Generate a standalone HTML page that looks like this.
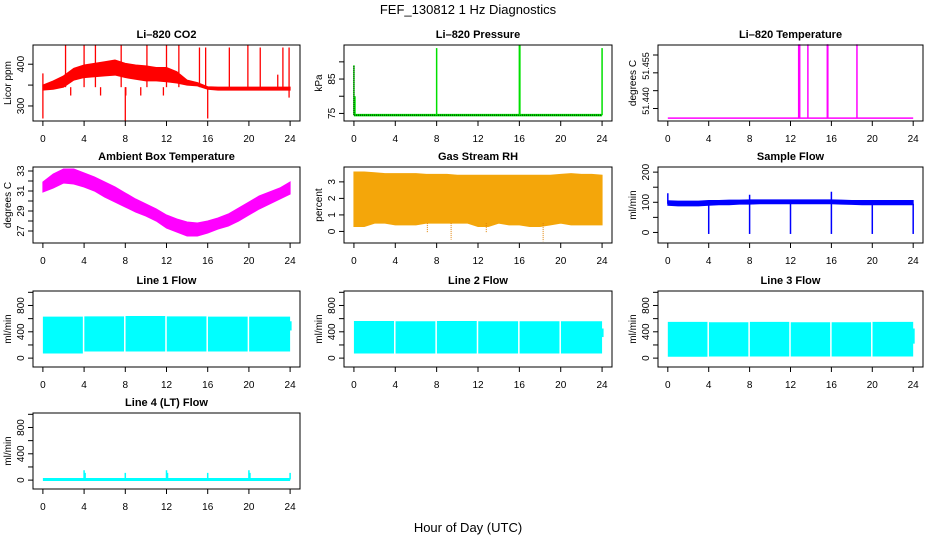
<!DOCTYPE html>
<html><head><meta charset="utf-8"><style>
html,body{margin:0;padding:0;background:#fff}
svg{display:block;font-family:"Liberation Sans",Arial,sans-serif}
</style></head><body>
<svg id="chart" width="936" height="540" viewBox="0 0 936 540" xmlns="http://www.w3.org/2000/svg">
<rect width="936" height="540" fill="#fff"/>
<text x="468" y="14" text-anchor="middle" font-size="13">FEF_130812  1 Hz Diagnostics</text>
<text x="468" y="532" text-anchor="middle" font-size="13">Hour of Day (UTC)</text>
</svg>
<script>
// ---- data arrays ----
const hours = [0,1,2,3,4,5,6,7,8,9,10,11,12,13,14,15,16,17,18,19,20,21,22,23,24];
const xTicks = [0,4,8,12,16,20,24];
// CO2
const co2Lo = [338,340,345,362,368,370,372,374,368,364,360,360,358,355,350,348,340,338,338,338,338,338,338,338,338];
const co2Hi = [350,360,372,390,398,402,406,410,402,398,396,392,392,382,362,356,346,345,345,345,345,345,345,345,345];
const co2SpikeH = [0,0,2.2,4,5.1,7.6,8,8.05,10.1,12,13.2,15.2,15.8,16,18.1,19.9,21.1,22.8,23.3,23.9,2.7,5.6,9.5,11.7,23.9];
const co2SpikeV = [378,270,445,445,445,445,265,325,445,445,445,440,440,270,440,445,440,375,440,440,325,325,325,325,320];
// Pressure
const presBase = 74.5;
const presSpikeH = [0,0.1,8,16,16.05,24];
const presSpikeV = [89,80,94,95,95,94];
// Li-820 temperature
const ltBase = 51.4423;
const ltSpikeH = [12.8,12.9,13.7,15.6,15.65,18.5];
const ltSpikeV = [51.463,51.463,51.463,51.463,51.463,51.463];
// Ambient box temperature
const ambLo = [30.9,31.3,31.8,31.7,31.4,31.0,30.4,29.9,29.4,28.9,28.5,28.0,27.3,26.9,26.5,26.5,26.8,27.2,27.5,28.0,28.6,29.2,29.7,30.2,30.7];
const ambHi = [31.9,32.7,33.2,33.2,32.8,32.4,31.9,31.4,30.8,30.2,29.7,29.2,28.6,28.2,27.9,27.8,28.0,28.3,28.7,29.3,29.9,30.5,30.9,31.3,31.9];
// Gas stream RH
const rhLo = [0.3,0.3,0.5,0.5,0.4,0.4,0.4,0.5,0.5,0.5,0.5,0.5,0.3,0.3,0.5,0.4,0.4,0.3,0.3,0.4,0.5,0.4,0.4,0.4,0.4];
const rhHi = [3.6,3.6,3.55,3.5,3.5,3.5,3.5,3.45,3.45,3.45,3.4,3.4,3.4,3.4,3.4,3.4,3.4,3.4,3.4,3.4,3.45,3.5,3.45,3.45,3.4];
const rhSpikeH = [9.4,18.3,7.1,12.8];
const rhSpikeV = [-0.5,-0.6,-0.1,-0.1];
// Sample flow
const sfLo = [90,88,88,88,90,92,92,94,94,95,95,95,95,95,95,95,95,94,93,92,92,92,92,92,92];
const sfHi = [105,104,104,104,106,106,107,107,108,108,108,108,108,108,108,108,108,107,106,106,106,106,106,106,106];
const sfSpikeH = [0,4,8,8,12,16,16,20,24];
const sfSpikeV = [130,-5,-5,125,-5,-5,135,-5,-5];
// Line flows
const gapHours = [4,8,12,16,20];
const l1Lo = [70,70,70,70,100,100,100,100,100,100,100,100,100,100,100,100,100,100,100,100,100,100,100,100];
const l1Hi = [630,630,630,630,635,635,635,635,640,640,640,640,635,635,635,635,630,630,630,630,630,630,630,630];
const l2Lo = [70,70,70,70,70,70,70,70,70,70,70,70,70,70,70,70,70,70,70,70,70,70,70,70];
const l2Hi = [565,565,565,565,560,560,560,560,565,565,565,565,560,560,560,560,560,560,560,560,560,560,560,560];
const l3Lo = [20,20,20,20,25,25,25,25,25,25,25,25,25,25,25,25,25,25,25,25,25,25,25,25];
const l3Hi = [550,550,550,550,545,545,545,545,550,550,550,550,545,545,545,545,545,545,545,545,550,550,550,550];
const l4Base = 10;
const l4SpikeH = [4,4.1,8,12,12.1,16,20,20.1,24];
const l4SpikeV = [150,110,110,150,110,110,150,110,110];

// ---- layout ----
const svg = document.getElementById('chart');
const NS = 'http://www.w3.org/2000/svg';
const colL = [33,344,658], colR = [300,612,923];
const rowT = [45,167,291,413], H = 76;
function mk(tag, attrs, parent){const e=document.createElementNS(NS,tag);for(const k in attrs)e.setAttribute(k,attrs[k]);(parent||svg).appendChild(e);return e;}
function xs(col){const L=colL[col],R=colR[col],x0=L+(R-L)*0.04/1.08,x1=R-(R-L)*0.04/1.08;return v=>x0+v*(x1-x0)/24;}
function ys(row,d0,d1){const t=rowT[row],b=t+H;return v=>b-(v-d0)/(d1-d0)*H;}

function panel(name,title,row,col,d0,d1,yTicks,yLabels,yTitle,labelPos,labelSize){
  const g=mk('g',{});
  
  
  const X=xs(col),Y=ys(row,d0,d1),L=colL[col],R=colR[col],T=rowT[row],B=T+H;
  const t=mk('text',{x:(L+R)/2,y:T-7,'text-anchor':'middle','font-size':11,'font-weight':'bold'},g);t.textContent=title;
  
  
  const plot=mk('g',{},g);
  
  
  const box=mk('rect',{x:L,y:T,width:R-L,height:H,fill:'none',stroke:'#000','stroke-width':1},g);
  
  
  mk('line',{x1:X(0),x2:X(24),y1:B,y2:B,stroke:'#000'},g);
  xTicks.forEach(v=>{
    mk('line',{x1:X(v),x2:X(v),y1:B,y2:B+5,stroke:'#000'},g);
    const tx=mk('text',{x:X(v),y:B+21,'text-anchor':'middle','font-size':10},g);tx.textContent=v;
    
    
  });
  yTicks.forEach(v=>{const y=Y(v);if(y>=T-1&&y<=B+1)mk('line',{x1:L-5,x2:L,y1:y,y2:y,stroke:'#000'},g);});
  yLabels.forEach((s,i)=>{
    if(!s)return;
    const y=labelPos?labelPos[i]:Y(yTicks[i]);
    const tx=mk('text',{x:L-9,y:y,'text-anchor':'middle','font-size':labelSize||10,transform:`rotate(-90 ${L-9} ${y})`},g);tx.textContent=s;
    
    
  });
  const yt=mk('text',{x:L-22,y:(T+B)/2,'text-anchor':'middle','font-size':10,transform:`rotate(-90 ${L-22} ${(T+B)/2})`},g);yt.textContent=yTitle;
  
  
  return {X,Y,plot};
}
function band(p,lo,hi,fill){
  let pts=hours.map((h,i)=>p.X(h)+','+p.Y(hi[i]));
  pts=pts.concat(hours.slice().reverse().map((h,j)=>{const i=hours.length-1-j;return p.X(h)+','+p.Y(lo[i]);}));
  const e=mk('polygon',{points:pts.join(' '),fill:fill,stroke:fill,'stroke-width':1},p.plot);
  
  
}
function spikes(p,H_,V,base,color,w,dash){
  H_.forEach((h,i)=>{
    const e=mk('line',{x1:p.X(h),x2:p.X(h),y1:p.Y(base),y2:p.Y(V[i]),stroke:color,'stroke-width':w||1.2},p.plot);
    if(dash)e.setAttribute('stroke-dasharray',dash);
    
    
  });
}
function segBand(p,lo,hi,fill,endLo,endHi){
  let pts=[];
  for(let i=0;i<24;i++){pts.push(p.X(i)+','+p.Y(hi[i]));pts.push(p.X(i+1)+','+p.Y(hi[i]));}
  for(let i=23;i>=0;i--){pts.push(p.X(i+1)+','+p.Y(lo[i]));pts.push(p.X(i)+','+p.Y(lo[i]));}
  const e=mk('polygon',{points:pts.join(' '),fill:fill},p.plot);
  
  
  gapHours.forEach(h=>{
    const gl=mk('line',{x1:p.X(h)-0.5,x2:p.X(h)-0.5,y1:p.Y(700),y2:p.Y(-20),stroke:'#fff','stroke-width':1.5},p.plot);
    
    
  });
  const r=mk('rect',{x:p.X(24)-1,y:p.Y(endHi),width:2.5,height:p.Y(endLo)-p.Y(endHi),fill:fill},p.plot);
  
  
}

// CO2
let p=panel('co2','Li\u2013820 CO2',0,0,264,446,[300,350,400],['300','','400'],'Licor ppm');
band(p,co2Lo,co2Hi,'#ff0000');
spikes(p,co2SpikeH,co2SpikeV,345,'#ff0000',1.3);
// Pressure
p=panel('pressure','Li\u2013820 Pressure',0,1,72.8,94.9,[75,80,85,90],['75','','85',''],'kPa');
mk('line',{x1:p.X(0),x2:p.X(24),y1:p.Y(presBase),y2:p.Y(presBase),stroke:'#00e000','stroke-width':2.5},p.plot);
mk('line',{x1:p.X(0),x2:p.X(24),y1:p.Y(presBase),y2:p.Y(presBase),stroke:'#000','stroke-width':1,'stroke-dasharray':'1 1'},p.plot);
spikes(p,presSpikeH,presSpikeV,presBase,'#00e000',1.5);
spikes(p,[presSpikeH[0]],[presSpikeV[0]],presBase,'#000',1,'1 1');
// Li-820 Temperature
p=panel('licor-temp','Li\u2013820 Temperature',0,2,51.4415,51.4628,[51.445,51.45,51.455,51.46],['51.440','51.455'],'degrees C',[101,66],9);
mk('line',{x1:p.X(0),x2:p.X(24),y1:p.Y(ltBase),y2:p.Y(ltBase),stroke:'#ff00ff','stroke-width':1.5},p.plot);
spikes(p,ltSpikeH,ltSpikeV,ltBase,'#ff00ff',1.5);
// Ambient
p=panel('ambient-temp','Ambient Box Temperature',1,0,25.8,33.4,[27,28,29,30,31,32,33],['27','','29','','31','','33'],'degrees C');
band(p,ambLo,ambHi,'#ff00ff');
// RH
p=panel('gas-rh','Gas Stream RH',1,1,-0.7,3.9,[0,1,2,3],['0','1','2','3'],'percent');
band(p,rhLo,rhHi,'#f4a60a');
spikes(p,rhSpikeH,rhSpikeV,0.5,'#e08000',1,'1 1');
// Sample flow
p=panel('sample-flow','Sample Flow',1,2,-35,217,[0,50,100,150,200],['0','','100','','200'],'ml/min');
band(p,sfLo,sfHi,'#0000ff');
spikes(p,sfSpikeH,sfSpikeV,95,'#0000ff',1.5);
// Line flows
const lt=[0,200,400,600,800,1000], ll=['0','','400','','800',''];
p=panel('line1-flow','Line 1 Flow',2,0,-135,1020,lt,ll,'ml/min');
segBand(p,l1Lo,l1Hi,'#00ffff',420,560);
p=panel('line2-flow','Line 2 Flow',2,1,-135,1020,lt,ll,'ml/min');
segBand(p,l2Lo,l2Hi,'#00ffff',320,450);
p=panel('line3-flow','Line 3 Flow',2,2,-135,1020,lt,ll,'ml/min');
segBand(p,l3Lo,l3Hi,'#00ffff',220,450);
p=panel('line4-flow','Line 4 (LT) Flow',3,0,-135,1020,lt,ll,'ml/min');
mk('line',{x1:p.X(0),x2:p.X(24),y1:p.Y(l4Base),y2:p.Y(l4Base),stroke:'#00ffff','stroke-width':3},p.plot);
spikes(p,l4SpikeH,l4SpikeV,l4Base,'#00ffff',1.5);
</script>
</body></html>
